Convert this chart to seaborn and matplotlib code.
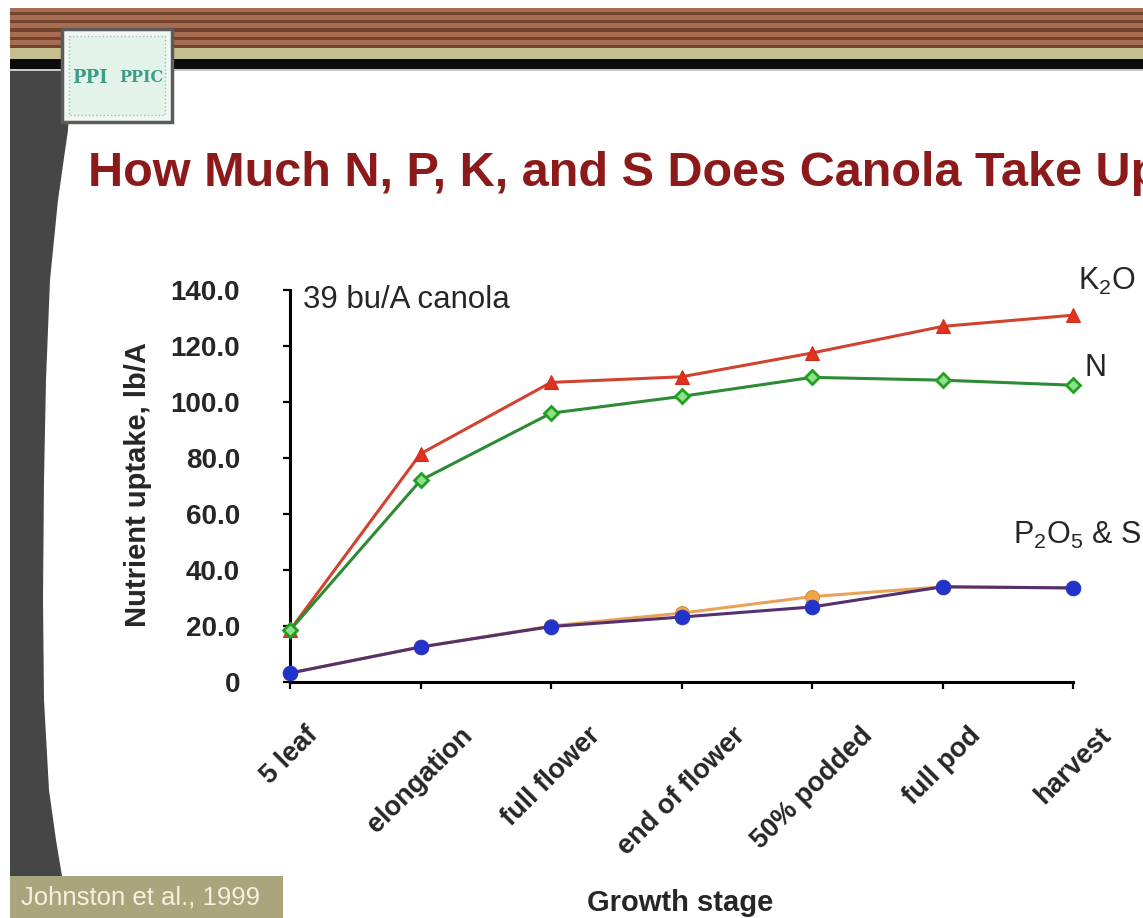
import numpy as np
import pandas as pd
import matplotlib
matplotlib.use("Agg")
import matplotlib.pyplot as plt
from matplotlib.patches import Rectangle, Polygon
import seaborn as sns

# ---- data -------------------------------------------------------------
stages = ["5 leaf", "elongation", "full flower", "end of flower",
          "50% podded", "full pod", "harvest"]
k2o = [18.5, 81.5, 107.0, 109.0, 117.5, 127.0, 131.0]
nitrogen = [18.5, 72.0, 96.0, 102.0, 108.8, 107.8, 106.0]
p2o5 = [3.2, 12.5, 20.0, 24.6, 30.5, 34.0, 33.6]
sulfur = [3.2, 12.5, 19.8, 23.2, 26.8, 34.0, 33.6]
y_ticks = [0, 20, 40, 60, 80, 100, 120, 140]
y_tick_labels = ["0", "20.0", "40.0", "60.0", "80.0", "100.0", "120.0", "140.0"]

W, H = 1143, 918

sns.set_theme(style="white")
plt.rcParams["font.family"] = ["Liberation Sans", "DejaVu Sans"]
plt.rcParams["mathtext.fontset"] = "custom"
plt.rcParams["mathtext.rm"] = "Liberation Sans"
plt.rcParams["mathtext.default"] = "rm"

fig = plt.figure(figsize=(W / 100, H / 100), dpi=100)
fig.patch.set_facecolor("white")

# ---- slide decoration (pixel coordinates) -----------------------------
bg = fig.add_axes([0, 0, 1, 1], zorder=0)
bg.set_xlim(0, W)
bg.set_ylim(H, 0)
bg.axis("off")

# striped header band
bg.add_patch(Rectangle((10, 8), W, 40, color="#a86c50", lw=0))
for i in range(5):
    bg.add_patch(Rectangle((10, 12 + i * 8.2), W, 3.2, color="#74432d", lw=0))
bg.add_patch(Rectangle((10, 48), W, 11, color="#c6bf90", lw=0))
bg.add_patch(Rectangle((10, 59), W, 10, color="#0b0b0b", lw=0))
bg.add_patch(Rectangle((10, 69), W, 2, color="#c8c8c8", lw=0))

# curved dark side band
edge = [(72, 71), (68, 130), (58, 200), (50, 280), (46, 380), (44, 480),
        (43, 600), (44, 700), (49, 790), (56, 840), (62, 876)]
band = [(10, 71)] + edge + [(10, 876)]
bg.add_patch(Polygon(band, closed=True, color="#464646", lw=0))

# logo
bg.add_patch(Rectangle((62, 29), 110, 93, facecolor="#f1f8f3",
                       edgecolor="#5c5c5c", lw=2.5))
bg.add_patch(Rectangle((69, 36), 96, 79, facecolor="#e3f3ea",
                       edgecolor="#9bbfb0", lw=1, ls=":"))
bg.text(90, 78, "PPI", color="#3f9c86", fontsize=13, fontweight="bold",
        ha="center", va="center", family=["DejaVu Serif"])
bg.text(141, 78, "PPIC", color="#3f9c86", fontsize=11.5, fontweight="bold",
        ha="center", va="center", family=["DejaVu Serif"])

# source box
bg.add_patch(Rectangle((10, 876), 273, 42, color="#aaa57d", lw=0))
bg.text(21, 897, "Johnston et al., 1999", color="#f4f1e0", fontsize=18.5,
        ha="left", va="center")

# title, axis titles
fig.text(88 / W, 1 - 174 / H, "How Much N, P, K, and S Does Canola Take Up?",
         color="#8c1a1a", fontsize=35, fontweight="bold", ha="left", va="center")
fig.text(138 / W, 1 - 485 / H, "Nutrient uptake, lb/A", rotation=90,
         fontsize=21, fontweight="bold", ha="center", va="center")
fig.text(680 / W, 1 - 903 / H, "Growth stage", fontsize=21,
         fontweight="bold", ha="center", va="center")

# ---- chart -------------------------------------------------------------
ax = fig.add_axes([290 / W, 1 - 682 / H, (1073 - 290) / W, (682 - 290) / H],
                  zorder=2)
ax.patch.set_alpha(0)

df = pd.DataFrame({"stage": stages, "K2O": k2o, "N": nitrogen,
                   "P2O5": p2o5, "S": sulfur})

sns.lineplot(data=df, x="stage", y="P2O5", ax=ax, sort=False, color="#e9a25a",
             lw=2.2, marker="o", markersize=10, markerfacecolor="#f0a548",
             markeredgecolor="#d98a3a", clip_on=False, zorder=3)
sns.lineplot(data=df, x="stage", y="S", ax=ax, sort=False, color="#55306e",
             lw=2.2, marker="o", markersize=10.5, markerfacecolor="#2233cc",
             markeredgecolor="#2a36c0", clip_on=False, zorder=4)
sns.lineplot(data=df, x="stage", y="K2O", ax=ax, sort=False, color="#d2432f",
             lw=2.2, marker="^", markersize=10, markerfacecolor="#e0321e",
             markeredgecolor="#d02a1a", clip_on=False, zorder=5)
sns.lineplot(data=df, x="stage", y="N", ax=ax, sort=False, color="#2e8a34",
             lw=2.2, marker="D", markersize=7.5, markerfacecolor="#8ee08a",
             markeredgecolor="#22a022", markeredgewidth=2, clip_on=False,
             zorder=6)

ax.set_xlim(0, len(stages) - 1)
ax.set_ylim(0, 140)
ax.set_xlabel("")
ax.set_ylabel("")
ax.set_yticks(y_ticks)
ax.set_yticklabels(y_tick_labels, fontweight="bold", fontsize=20)
ax.set_xticks(range(len(stages)))
ax.set_xticklabels(stages, rotation=45, fontsize=19.5, fontweight="bold",
                   ha="center", va="top")

for side in ("top", "right"):
    ax.spines[side].set_visible(False)
for side in ("left", "bottom"):
    ax.spines[side].set_color("black")
    ax.spines[side].set_linewidth(2.2)
ax.tick_params(axis="y", direction="out", length=5, width=1.6, color="black",
               pad=31, left=True)
ax.tick_params(axis="x", direction="out", length=5, width=1.6, color="black",
               pad=24, bottom=True)

ax.text(0.1, 136.3, "39 bu/A canola", fontsize=22.5, ha="left", va="center")
ax.text(6.04, 143, r"K$_2$O", fontsize=22, ha="left", va="center",
        clip_on=False)
ax.text(6.09, 112, "N", fontsize=22, ha="left", va="center", clip_on=False)
ax.text(5.54, 52.5, r"P$_2$O$_5$ & S", fontsize=22, ha="left", va="center",
        clip_on=False)

fig.savefig("out.png", dpi=100)
